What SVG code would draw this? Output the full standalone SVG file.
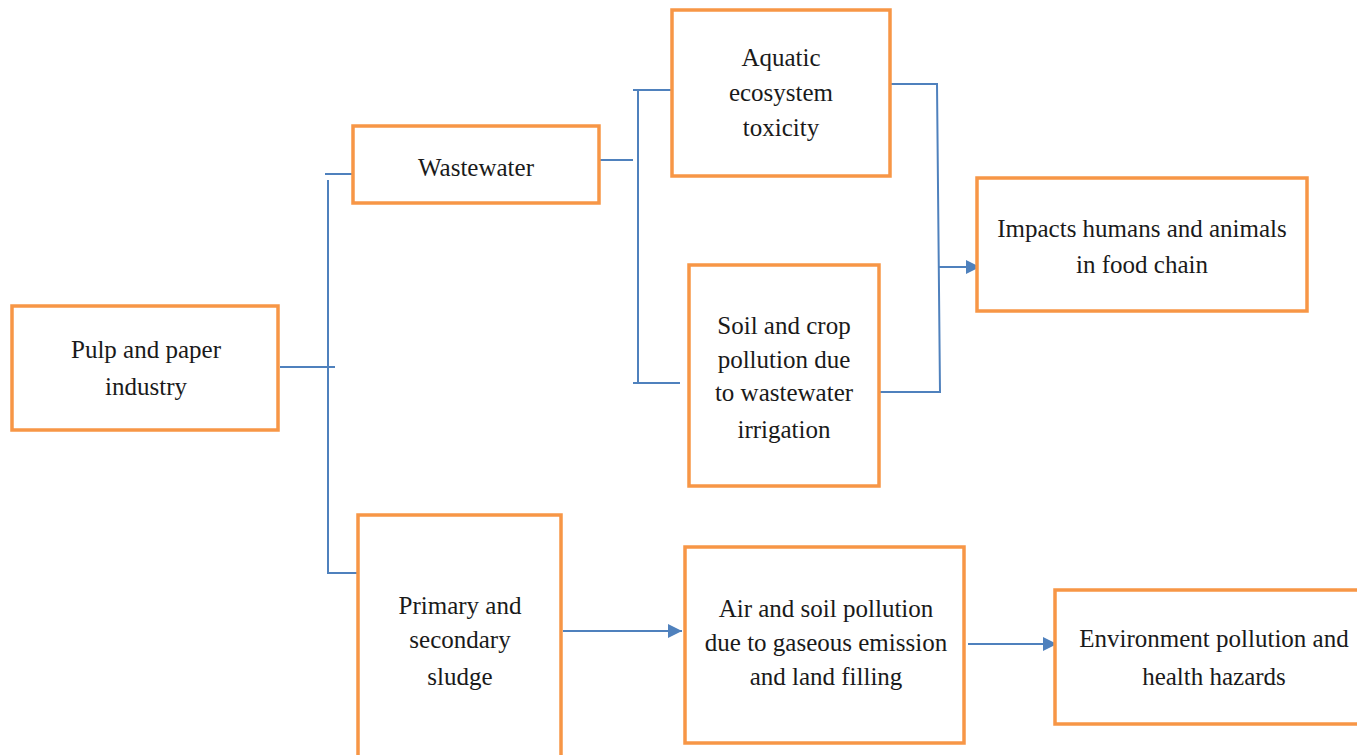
<svg xmlns="http://www.w3.org/2000/svg" width="1357" height="755" viewBox="0 0 1357 755">
  <style>
    .box { fill: #ffffff; stroke: #F79646; stroke-width: 3.5; }
    .lbl { font-family: "Liberation Serif", "DejaVu Serif", serif; font-size: 25px; fill: #1a1a1a; text-anchor: middle; }
    .wire { fill: none; stroke: #4F81BD; stroke-width: 2; }
  </style>
  <defs>
    <marker id="arrow" viewBox="0 0 14 14" refX="14" refY="7" markerWidth="14" markerHeight="14" orient="auto" markerUnits="userSpaceOnUse">
      <path d="M0,0 L14,7 L0,14 z" fill="#4F81BD"/>
    </marker>
  </defs>
  <rect width="1357" height="755" fill="#ffffff"/>

  <g id="connectors">
    <!-- pulp and paper branching to wastewater and sludge -->
    <path class="wire" d="M280,367 H335"/>
    <path class="wire" d="M328,180 V573 H358"/>
    <path class="wire" d="M325,174 H357"/>
    <!-- wastewater branching -->
    <path class="wire" d="M599,160 H633"/>
    <path class="wire" d="M633,90 H673"/>
    <path class="wire" d="M638,90 V383"/>
    <path class="wire" d="M633,383 H680"/>
    <!-- merge into food chain -->
    <path class="wire" d="M890,84 H937 L940,392 H878"/>
    <path class="wire" d="M939,267 H980" marker-end="url(#arrow)"/>
    <!-- sludge chain -->
    <path class="wire" d="M563,631 H682" marker-end="url(#arrow)"/>
    <path class="wire" d="M968,644 H1057" marker-end="url(#arrow)"/>
  </g>

  <g id="pulp">
    <rect class="box" x="12" y="306" width="266" height="124"/>
    <text class="lbl" x="146" y="358">Pulp and paper</text>
    <text class="lbl" x="146" y="395">industry</text>
  </g>
  <g id="wastewater">
    <rect class="box" x="353" y="126" width="246" height="77"/>
    <text class="lbl" x="476" y="176">Wastewater</text>
  </g>
  <g id="aquatic">
    <rect class="box" x="672" y="10" width="218" height="166"/>
    <text class="lbl" x="781" y="66">Aquatic</text>
    <text class="lbl" x="781" y="101">ecosystem</text>
    <text class="lbl" x="781" y="136">toxicity</text>
  </g>
  <g id="soil">
    <rect class="box" x="689" y="265" width="190" height="221"/>
    <text class="lbl" x="784" y="334">Soil and crop</text>
    <text class="lbl" x="784" y="368">pollution due</text>
    <text class="lbl" x="784" y="401">to wastewater</text>
    <text class="lbl" x="784" y="438">irrigation</text>
  </g>
  <g id="impacts">
    <rect class="box" x="977" y="178" width="330" height="133"/>
    <text class="lbl" x="1142" y="237">Impacts humans and animals</text>
    <text class="lbl" x="1142" y="273">in food chain</text>
  </g>
  <g id="sludge">
    <rect class="box" x="358" y="515" width="203" height="250"/>
    <text class="lbl" x="460" y="614">Primary and</text>
    <text class="lbl" x="460" y="648">secondary</text>
    <text class="lbl" x="460" y="685">sludge</text>
  </g>
  <g id="air">
    <rect class="box" x="685" y="547" width="279" height="196"/>
    <text class="lbl" x="826" y="617">Air and soil pollution</text>
    <text class="lbl" x="826" y="651">due to gaseous emission</text>
    <text class="lbl" x="826" y="685">and land filling</text>
  </g>
  <g id="environment">
    <rect class="box" x="1055" y="590" width="320" height="134"/>
    <text class="lbl" x="1214" y="647">Environment pollution and</text>
    <text class="lbl" x="1214" y="685">health hazards</text>
  </g>
</svg>
